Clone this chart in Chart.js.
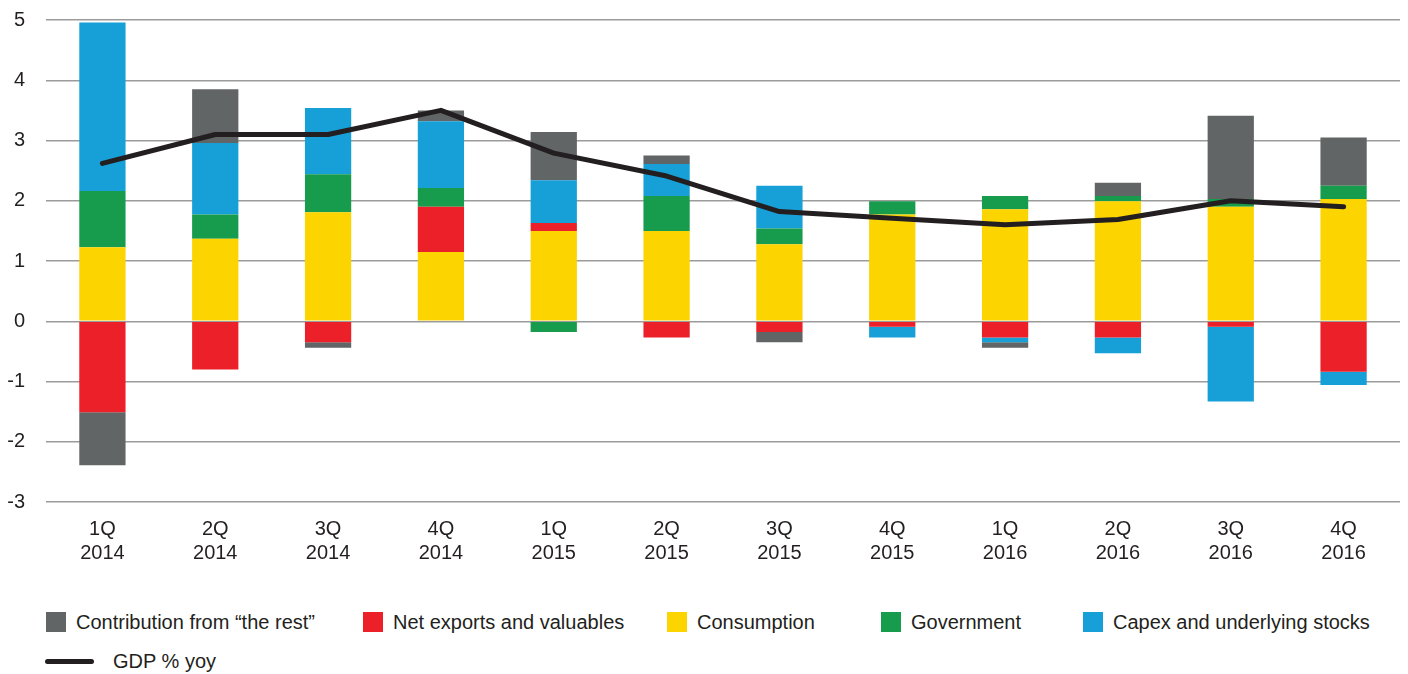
<!DOCTYPE html>
<html>
<head>
<meta charset="utf-8">
<script src="https://cdn.jsdelivr.net/npm/chart.js@4/dist/chart.umd.min.js"></script>
<style>
  html, body { margin: 0; padding: 0; background: #fff; }
  #wrap { position: relative; width: 1408px; height: 674px; }
  #box { position: absolute; left: 0; top: 0; width: 1408px; height: 580px; }
  #legend {
    position: absolute; left: 46px; top: 612px;
    display: grid; grid-template-columns: 317px 304px 214px 202px auto;
    row-gap: 19px;
    font-family: 'Liberation Sans', Arial, sans-serif; font-size: 20px; color: #231f20;
  }
  .item { display: flex; align-items: center; height: 20px; white-space: nowrap; }
  .sw { width: 20px; height: 20px; margin-right: 10px; }
  .ln { width: 49px; height: 5px; border-radius: 3px; margin-right: 19px; margin-left: -1px; }
</style>
</head>
<body>
<div id="wrap">
  <div id="box"><canvas id="gdpChart"></canvas></div>
  <div id="legend"></div>
</div>
<script>
const categories = [['1Q','2014'],['2Q','2014'],['3Q','2014'],['4Q','2014'],
                    ['1Q','2015'],['2Q','2015'],['3Q','2015'],['4Q','2015'],
                    ['1Q','2016'],['2Q','2016'],['3Q','2016'],['4Q','2016']];

const consumption = [1.23, 1.37, 1.81, 1.15, 1.50, 1.50, 1.28, 1.77, 1.86, 1.99, 1.90, 2.03];
const netExports  = [-1.51, -0.80, -0.35, 0.75, 0.13, -0.27, -0.18, -0.09, -0.27, -0.27, -0.09, -0.84];
const government  = [0.93, 0.40, 0.63, 0.31, -0.18, 0.58, 0.26, 0.22, 0.22, 0.09, 0.13, 0.22];
const capex       = [2.80, 1.19, 1.10, 1.11, 0.71, 0.53, 0.71, -0.18, -0.08, -0.26, -1.24, -0.22];
const theRest     = [-0.88, 0.89, -0.09, 0.18, 0.80, 0.14, -0.17, 0, -0.09, 0.22, 1.38, 0.80];
const gdpYoy      = [2.62, 3.10, 3.10, 3.50, 2.79, 2.41, 1.82, 1.71, 1.60, 1.69, 2.00, 1.90];

const yTicks = [-3, -2, -1, 0, 1, 2, 3, 4, 5];

const legendOrder = ['Contribution from \u201Cthe rest\u201D', 'Net exports and valuables',
                     'Consumption', 'Government', 'Capex and underlying stocks', 'GDP % yoy'];

Chart.defaults.font.family = "'Liberation Sans', Arial, sans-serif";
Chart.defaults.font.size = 20;
Chart.defaults.color = '#231f20';

function barSet(label, data, color) {
    return {
        type: 'bar',
        label: label,
        data: data,
        backgroundColor: color,
        borderWidth: 0,
        stack: 'parts',
        order: 1,
        categoryPercentage: 1,
        barPercentage: 0.41
    };
}

const ctx = document.getElementById('gdpChart');
const chart = new Chart(ctx, {
    data: {
        labels: categories,
        datasets: [
            barSet('Consumption', consumption, '#fcd400'),
            barSet('Net exports and valuables', netExports, '#ec2028'),
            barSet('Government', government, '#179b4c'),
            barSet('Capex and underlying stocks', capex, '#179fd7'),
            barSet('Contribution from \u201Cthe rest\u201D', theRest, '#616565'),
            {
                type: 'line',
                label: 'GDP % yoy',
                data: gdpYoy,
                borderColor: '#231f20',
                backgroundColor: '#231f20',
                borderWidth: 5,
                borderCapStyle: 'round',
                borderJoinStyle: 'round',
                pointRadius: 0,
                tension: 0,
                stack: 'gdp',
                order: 0
            }
        ]
    },
    options: {
        responsive: true,
        maintainAspectRatio: false,
        animation: false,
        layout: { padding: { top: 20, right: 8, left: 0, bottom: 0 } },
        plugins: {
            legend: { display: false },
            tooltip: { enabled: false }
        },
        scales: {
            x: {
                stacked: true,
                grid: { display: false },
                border: { display: false },
                ticks: { padding: 7, maxRotation: 0, autoSkip: false },
                afterFit: (s) => { s.height = 78; }
            },
            y: {
                stacked: true,
                min: -3,
                max: 5,
                afterBuildTicks: (s) => { s.ticks = yTicks.map(v => ({ value: v })); },
                grid: { color: '#9b9b9b', lineWidth: 1.5, drawTicks: false },
                border: { display: false },
                ticks: { padding: 21 },
                afterFit: (s) => { s.width = 46; s.paddingTop = 0; s.paddingBottom = 0; }
            }
        }
    }
});

// html legend in the reference order
const items = chart.options.plugins.legend.labels.generateLabels(chart)
    .sort((a, b) => legendOrder.indexOf(a.text) - legendOrder.indexOf(b.text));
const legendEl = document.getElementById('legend');
items.forEach(it => {
    const ds = chart.data.datasets[it.datasetIndex];
    const div = document.createElement('div');
    div.className = 'item';
    const sw = document.createElement('span');
    sw.className = ds.type === 'line' ? 'ln' : 'sw';
    sw.style.background = ds.type === 'line' ? ds.borderColor : ds.backgroundColor;
    const tx = document.createElement('span');
    tx.textContent = it.text;
    div.appendChild(sw);
    div.appendChild(tx);
    legendEl.appendChild(div);
});
</script>
</body>
</html>
